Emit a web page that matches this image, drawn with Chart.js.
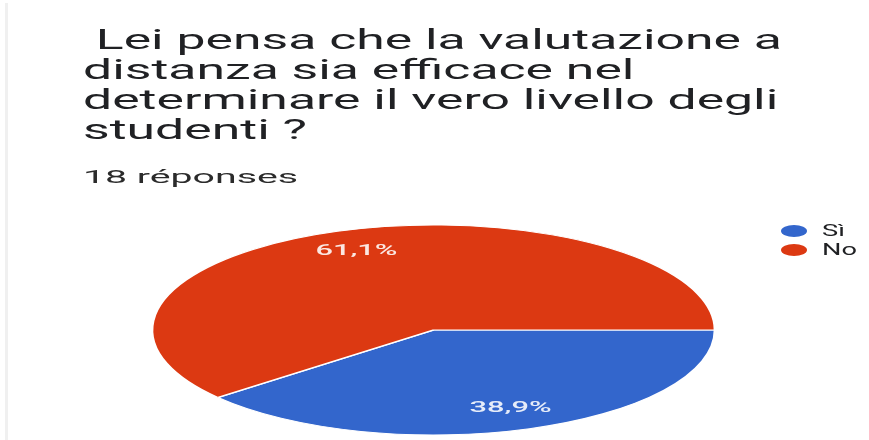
<!DOCTYPE html>
<html>
<head>
<meta charset="utf-8">
<script src="https://cdn.jsdelivr.net/npm/chart.js@4.4.1/dist/chart.umd.min.js"></script>
<style>
  html, body { margin: 0; padding: 0; background: #fff; }
  body { width: 869px; height: 440px; position: relative; overflow: hidden; font-family: Roboto, "Noto Sans", sans-serif; }
  #edge { position: absolute; left: 5px; top: 3px; width: 3px; height: 437px; background: #f0f0f0; }
  #head { position: absolute; left: 83px; top: 25px; transform-origin: 0 0; color: #202124; font-size: 28px; line-height: 30px; white-space: pre; z-index: 2; }
  #count { position: absolute; left: 83px; top: 166px; transform-origin: 0 0; color: #2b2b2b; font-size: 19px; line-height: 22px; white-space: pre; z-index: 2; }
  #legend { position: absolute; left: 781px; top: 221px; z-index: 2; }
  #legend .row { height: 19px; display: flex; align-items: center; white-space: nowrap; }
  #legend .dot { width: 26px; height: 12px; border-radius: 50%; display: inline-block; }
  #legend .txt { display: inline-block; margin-left: 15px; font-size: 17px; line-height: 19px; color: #202124; transform-origin: 0 50%; transform: scaleX(1.6); }
  #c { position: absolute; left: 0; top: 0; }
</style>
</head>
<body>
<div id="edge"></div>
<div id="head"></div>
<div id="count"></div>
<div id="legend"></div>
<canvas id="c" width="869" height="440"></canvas>
<script>
// question text, one line each
const titleLines = [" Lei pensa che la valutazione a", "distanza sia efficace nel", "determinare il vero livello degli", "studenti ?"];
const subtitle = "18 réponses";
const answers = ["Sì", "No"];
const counts = [7, 11];
const colors = ["#3366cc", "#dc3912"];

// the screenshot is squashed: pie is 563 wide, 210 high
const stretch = 281.5 / 105;

const head = document.getElementById("head");
titleLines.forEach((line) => {
  const d = document.createElement("div");
  const s = document.createElement("span");
  s.textContent = line;
  d.appendChild(s);
  head.appendChild(d);
});
const widest = Math.max(...[...head.querySelectorAll("span")].map((s) => s.getBoundingClientRect().width));
head.style.transform = `scaleX(${699 / widest})`;

const count = document.getElementById("count");
const cs = document.createElement("span");
cs.textContent = subtitle;
count.appendChild(cs);
count.style.transform = `scaleX(${215 / cs.getBoundingClientRect().width})`;

const squash = {
  id: "squash",
  beforeDatasetsDraw(chart) {
    const arc = chart.getDatasetMeta(0).data[0];
    const ctx = chart.ctx;
    ctx.save();
    ctx.translate(arc.x, arc.y);
    ctx.scale(stretch, 1);
    ctx.translate(-arc.x, -arc.y);
  },
  afterDatasetsDraw(chart) {
    const ctx = chart.ctx;
    ctx.restore();
    const total = counts.reduce((a, b) => a + b, 0);
    chart.getDatasetMeta(0).data.forEach((arc, i) => {
      const mid = (arc.startAngle + arc.endAngle) / 2;
      const r = arc.outerRadius * 0.8;
      const x = arc.x + Math.cos(mid) * r * stretch;
      const y = arc.y + Math.sin(mid) * r;
      const txt = ((counts[i] / total) * 100).toFixed(1).replace(".", ",") + "%";
      ctx.save();
      ctx.translate(x, y);
      ctx.scale(2.2, 1);
      ctx.font = "500 14px Roboto";
      ctx.fillStyle = "rgba(255,255,255,0.88)";
      ctx.textAlign = "center";
      ctx.textBaseline = "middle";
      ctx.fillText(txt, 0, 0);
      ctx.restore();
    });
  },
};

const aChart = new Chart(document.getElementById("c"), {
  type: "pie",
  data: {
    labels: answers,
    datasets: [
      {
        data: counts,
        backgroundColor: colors,
        borderColor: "#fff",
        borderWidth: 1,
        radius: 105,
      },
    ],
  },
  options: {
    responsive: false,
    animation: false,
    rotation: 90,
    layout: { padding: { top: 220, bottom: 0, left: 0, right: 2 } },
    plugins: {
      legend: { display: false },
      tooltip: { enabled: false },
    },
  },
  plugins: [squash],
});

// html legend, built from the chart's own labels and colours
const legend = document.getElementById("legend");
aChart.data.labels.forEach((lab, i) => {
  const row = document.createElement("div");
  row.className = "row";
  const dot = document.createElement("span");
  dot.className = "dot";
  dot.style.background = aChart.data.datasets[0].backgroundColor[i];
  const t = document.createElement("span");
  t.className = "txt";
  t.textContent = lab;
  row.appendChild(dot);
  row.appendChild(t);
  legend.appendChild(row);
});
</script>
</body>
</html>
